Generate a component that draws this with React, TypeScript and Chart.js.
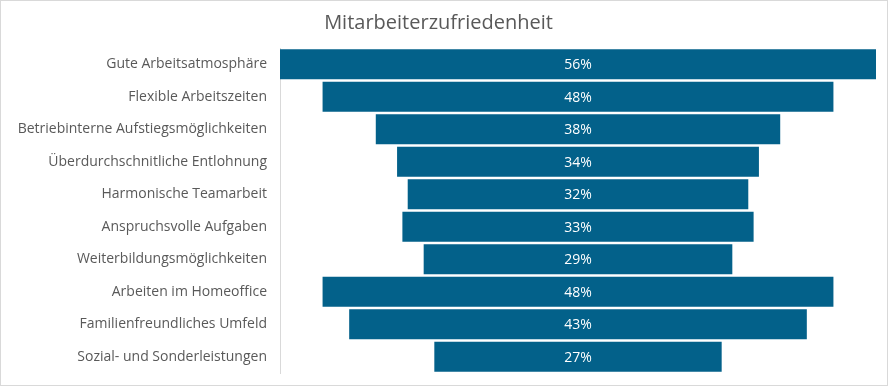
import React, { useEffect, useRef } from "react";
import { Chart, registerables } from "chart.js";

Chart.register(...registerables);

const TITLE = "Mitarbeiterzufriedenheit";
const categories = [
  "Gute Arbeitsatmosphäre",
  "Flexible Arbeitszeiten",
  "Betriebinterne Aufstiegsmöglichkeiten",
  "Überdurchschnitliche Entlohnung",
  "Harmonische Teamarbeit",
  "Anspruchsvolle Aufgaben",
  "Weiterbildungsmöglichkeiten",
  "Arbeiten im Homeoffice",
  "Familienfreundliches Umfeld",
  "Sozial- und Sonderleistungen",
];
const values = [56, 48, 38, 34, 32, 33, 29, 48, 43, 27];

const BAR_COLOR = "#03618A";
const TEXT_COLOR = "#595959";
const FONT = "'Open Sans', 'Noto Sans', sans-serif";

const valueLabels = {
  id: "valueLabels",
  afterDatasetsDraw(chart: any) {
    const ctx = chart.ctx;
    const meta = chart.getDatasetMeta(0);
    ctx.save();
    ctx.fillStyle = "#ffffff";
    ctx.font = `14px ${FONT}`;
    ctx.textAlign = "center";
    ctx.textBaseline = "middle";
    meta.data.forEach((bar: any, i: number) => {
      const { x, base, y } = bar.getProps(["x", "base", "y"], true);
      ctx.fillText(values[i] + "%", (x + base) / 2, y + 1);
    });
    ctx.restore();
  },
};

export default function App() {
  const ref = useRef<HTMLCanvasElement | null>(null);
  useEffect(() => {
    if (!ref.current) return;
    const max = Math.max(...values);
    const chart = new Chart(ref.current, {
      type: "bar",
      data: {
        labels: categories,
        datasets: [
          {
            data: values.map((v) => [-v / 2, v / 2]) as any,
            backgroundColor: BAR_COLOR,
            borderWidth: 0,
            categoryPercentage: 1,
            barPercentage: 0.92,
          },
        ],
      },
      options: {
        indexAxis: "y",
        animation: false,
        responsive: false,
        maintainAspectRatio: false,
        devicePixelRatio: 1,
        layout: { padding: { top: 0, bottom: 12, right: 11, left: 0 } },
        plugins: {
          legend: { display: false },
          tooltip: { enabled: false },
          title: {
            display: true,
            text: TITLE,
            color: TEXT_COLOR,
            font: { family: FONT, size: 20, weight: "normal" as any, lineHeight: 1.2 },
            padding: { top: 10, bottom: 13 },
          },
        },
        scales: {
          x: {
            display: false,
            min: -max / 2,
            max: max / 2,
          },
          y: {
            grid: { display: false, drawTicks: false },
            border: { display: true, color: "#d9d9d9", width: 1 },
            ticks: {
              color: TEXT_COLOR,
              font: { family: FONT, size: 14 },
              padding: 13,
            },
            afterFit(scale: any) {
              scale.width = 279;
              scale.paddingTop = 0;
              scale.paddingBottom = 0;
            },
          },
        },
      },
      plugins: [valueLabels],
    });
    return () => chart.destroy();
  }, []);
  return (
    <div
      style={{
        position: "absolute",
        left: 0,
        top: 0,
        width: 888,
        height: 386,
        border: "1px solid #d9d9d9",
        boxSizing: "border-box",
        background: "#fff",
      }}
    >
      <canvas ref={ref} width={886} height={384} style={{ display: "block", width: 886, height: 384 }} />
    </div>
  );
}
